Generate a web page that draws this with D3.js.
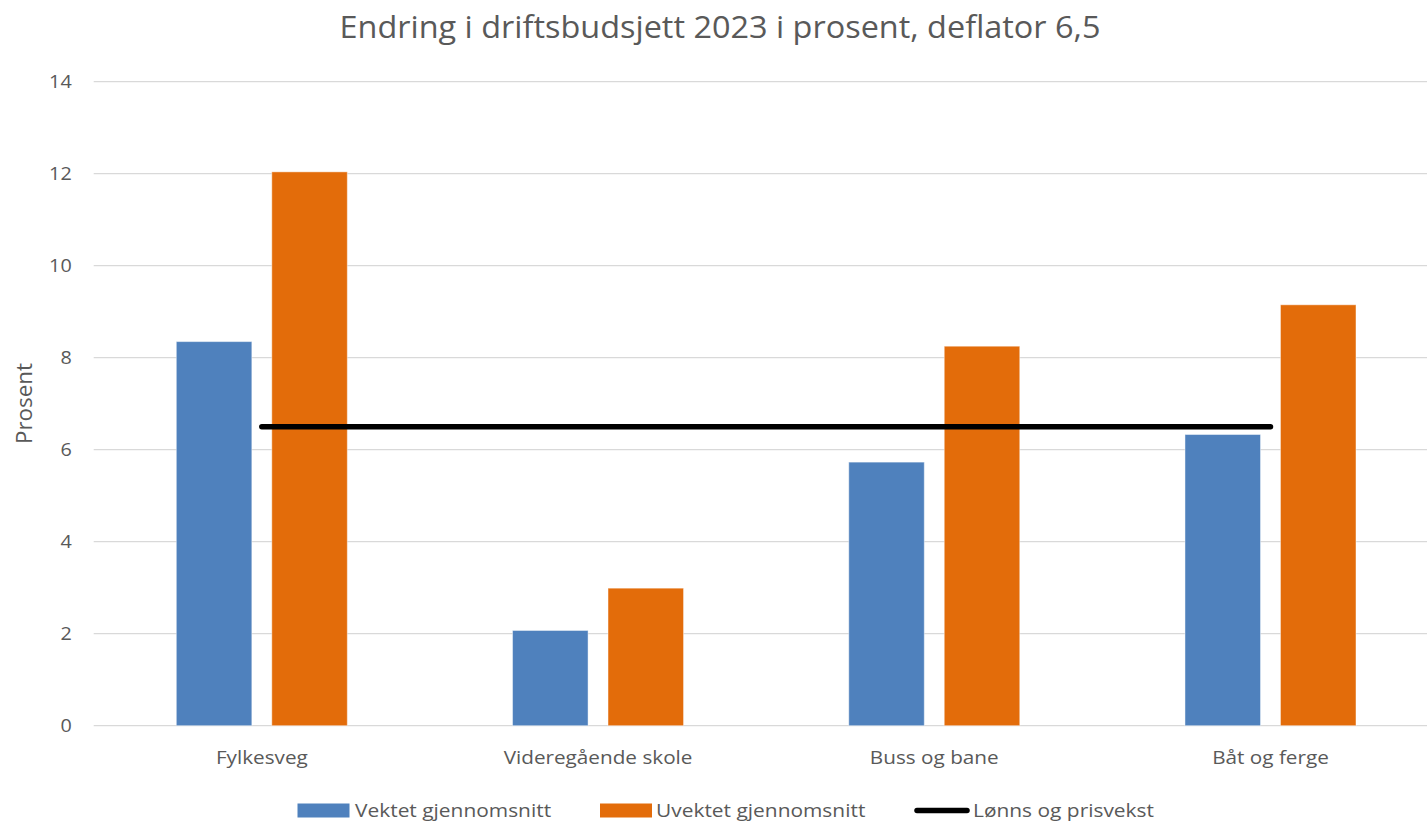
<!DOCTYPE html>
<html>
<head>
<meta charset="utf-8">
<script src="https://cdn.jsdelivr.net/npm/d3@7"></script>
<style>
  html, body { margin: 0; padding: 0; background: #fff; }
  svg { display: block; }
  text { font-family: "Open Sans", "Noto Sans", sans-serif; fill: #595959; }
</style>
</head>
<body>
<svg id="chart" width="1427" height="822"></svg>
<script>
// ---- data ----
const categories = ["Fylkesveg", "Videregående skole", "Buss og bane", "Båt og ferge"];
const vektet = [8.35, 2.07, 5.73, 6.33];
const uvektet = [12.04, 2.99, 8.25, 9.15];
const lonnsPris = [6.5, 6.5, 6.5, 6.5];
const seriesNames = ["Vektet gjennomsnitt", "Uvektet gjennomsnitt", "Lønns og prisvekst"];
const yTicks = [0, 2, 4, 6, 8, 10, 12, 14];
const chartTitle = "Endring i driftsbudsjett 2023 i prosent, deflator 6,5";
const yTitle = "Prosent";

// ---- layout ----
const W = 1427, H = 822;
const plot = { left: 93.7, right: 1438.6, top: 81.7, bottom: 725.7 };
const colors = { v: "#4F81BD", u: "#E36C0A", line: "#000000", grid: "#D9D9D9" };
const stretch = 1.09; // widen glyphs to mimic the reference face's proportions

function widen(sel, f) {
  sel.each(function () {
    const w = this.getComputedTextLength();
    d3.select(this).attr("textLength", w * f).attr("lengthAdjust", "spacingAndGlyphs");
  });
}

const svg = d3.select("#chart");

const x = d3.scaleBand().domain(categories).range([plot.left, plot.right]).paddingInner(0).paddingOuter(0);
const bw = x.bandwidth();
const x1 = d3.scaleBand().domain(["v", "u"]).range([bw * 0.2457, bw * 0.7543]).paddingInner(0.209).paddingOuter(0);
const y = d3.scaleLinear().domain([0, 14]).range([plot.bottom, plot.top]);

// gridlines
svg.append("g").selectAll("line").data(yTicks).join("line")
  .attr("x1", plot.left).attr("x2", plot.right)
  .attr("y1", d => y(d)).attr("y2", d => y(d))
  .attr("stroke", colors.grid).attr("stroke-width", 1.3);

// y axis labels
const yAxis = d3.axisLeft(y).tickValues(yTicks).tickSize(0).tickPadding(0).tickFormat(d3.format("d"));
const gy = svg.append("g").attr("transform", `translate(${plot.left - 22},0)`).call(yAxis);
gy.select(".domain").remove();
gy.selectAll("text").attr("font-size", 18).attr("fill", "#595959")
  .attr("font-family", "'Open Sans', sans-serif").call(widen, 1.1);

// x axis labels
const xAxis = d3.axisBottom(x).tickSize(0).tickPadding(0);
const gx = svg.append("g").attr("transform", `translate(0,${plot.bottom + 24.5})`).call(xAxis);
gx.select(".domain").remove();
gx.selectAll("text").attr("font-size", 19).attr("fill", "#595959")
  .attr("font-family", "'Open Sans', sans-serif").call(widen, stretch);

// bars
const rows = categories.map((c, i) => ({ c, v: vektet[i], u: uvektet[i] }));
const groups = svg.append("g").selectAll("g").data(rows).join("g")
  .attr("transform", d => `translate(${x(d.c)},0)`);
groups.selectAll("rect").data(d => [{ k: "v", val: d.v }, { k: "u", val: d.u }]).join("rect")
  .attr("x", d => x1(d.k))
  .attr("width", x1.bandwidth())
  .attr("y", d => y(d.val))
  .attr("height", d => y(0) - y(d.val))
  .attr("fill", d => colors[d.k])
  .attr("stroke", "#ffffff").attr("stroke-opacity", 0.45).attr("stroke-width", 1);

// line series
const lineGen = d3.line()
  .x((d, i) => x(categories[i]) + bw / 2)
  .y(d => y(d));
svg.append("path").datum(lonnsPris)
  .attr("d", lineGen)
  .attr("fill", "none").attr("stroke", colors.line)
  .attr("stroke-width", 5.5).attr("stroke-linecap", "round").attr("stroke-linejoin", "round");

// title
svg.append("text")
  .attr("x", 720).attr("y", 38)
  .attr("text-anchor", "middle")
  .attr("font-size", 31)
  .attr("textLength", 761).attr("lengthAdjust", "spacingAndGlyphs")
  .text(chartTitle);

// y title
svg.append("text")
  .attr("transform", `translate(32,403.5) rotate(-90)`)
  .attr("text-anchor", "middle")
  .attr("font-size", 21)
  .attr("textLength", 81).attr("lengthAdjust", "spacingAndGlyphs")
  .text(yTitle);

// legend
const legend = svg.append("g");
const legY = 810.5;
const legItems = [
  { type: "rect", color: colors.v, x: 297.5, tx: 355, name: seriesNames[0] },
  { type: "rect", color: colors.u, x: 600, tx: 656, name: seriesNames[1] },
  { type: "line", color: colors.line, x: 914, tx: 973, name: seriesNames[2] }
];
legItems.forEach(it => {
  if (it.type === "rect") {
    legend.append("rect").attr("x", it.x).attr("y", legY - 7).attr("width", 52).attr("height", 14)
      .attr("fill", it.color);
  } else {
    legend.append("line").attr("x1", it.x + 3).attr("x2", it.x + 53)
      .attr("y1", legY).attr("y2", legY)
      .attr("stroke", it.color).attr("stroke-width", 5.5).attr("stroke-linecap", "round");
  }
  legend.append("text").attr("x", it.tx).attr("y", legY + 6.5)
    .attr("font-size", 19).text(it.name).call(widen, 1.1);
});
</script>
</body>
</html>
